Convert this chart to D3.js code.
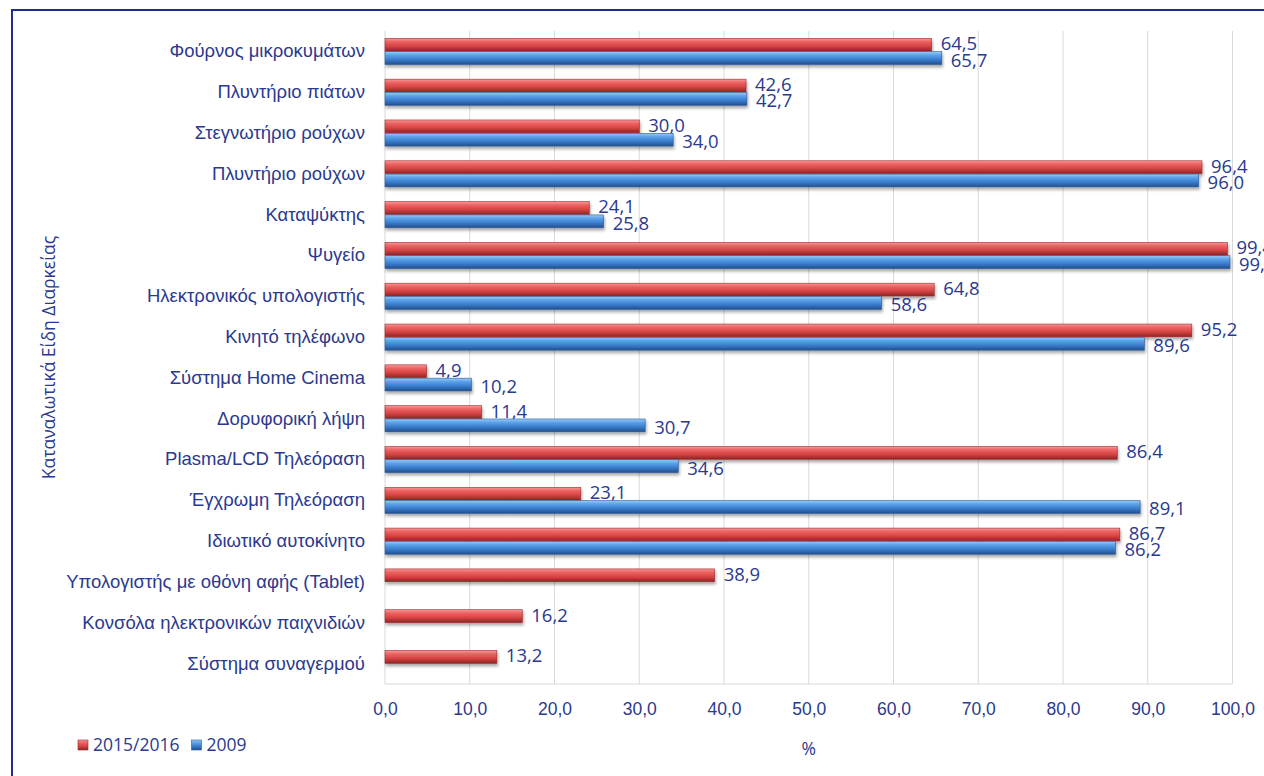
<!DOCTYPE html>
<html>
<head>
<meta charset="utf-8">
<script src="https://cdn.jsdelivr.net/npm/d3@7"></script>
<style>
  body { margin: 0; background: #fff; }
  svg { display: block; font-family: "Open Sans", sans-serif; }
</style>
</head>
<body>
<svg id="chart" width="1264" height="776"></svg>
<script>
// categories top to bottom
const categories = [
  'Φούρνος μικροκυμάτων',
  'Πλυντήριο πιάτων',
  'Στεγνωτήριο ρούχων',
  'Πλυντήριο ρούχων',
  'Καταψύκτης',
  'Ψυγείο',
  'Ηλεκτρονικός υπολογιστής',
  'Κινητό τηλέφωνο',
  'Σύστημα Home Cinema',
  'Δορυφορική λήψη',
  'Plasma/LCD Τηλεόραση',
  'Έγχρωμη Τηλεόραση',
  'Ιδιωτικό αυτοκίνητο',
  'Υπολογιστής με οθόνη αφής (Tablet)',
  'Κονσόλα ηλεκτρονικών παιχνιδιών',
  'Σύστημα συναγερμού'
];
const values2015 = [64.5, 42.6, 30.0, 96.4, 24.1, 99.4, 64.8, 95.2, 4.9, 11.4, 86.4, 23.1, 86.7, 38.9, 16.2, 13.2];
const values2009 = [65.7, 42.7, 34.0, 96.0, 25.8, 99.7, 58.6, 89.6, 10.2, 30.7, 34.6, 89.1, 86.2, null, null, null];
const seriesNames = ['2015/2016', '2009'];
const xTicks = [0, 10, 20, 30, 40, 50, 60, 70, 80, 90, 100];
const yAxisTitle = 'Καταναλωτικά Είδη Διαρκείας';
const xAxisTitle = '%';

const textColor = '#2b3990';
const fmt = v => v.toFixed(1).replace('.', ',');

const svg = d3.select('#chart');
const margin = { top: 31, left: 385, right: 31, bottom: 92 };
const height = 776 - margin.top - margin.bottom;

// gradients for the rounded bar look
const defs = svg.append('defs');
function grad(id, stops) {
  const g = defs.append('linearGradient').attr('id', id)
    .attr('x1', 0).attr('y1', 0).attr('x2', 0).attr('y2', 1);
  stops.forEach(([o, c]) => g.append('stop').attr('offset', o).attr('stop-color', c));
}
grad('gRed', [[0, '#f59a9a'], [0.25, '#ee6464'], [0.6, '#d84545'], [1, '#8e2424']]);
grad('gBlue', [[0, '#9ccbf5'], [0.25, '#5ea4ea'], [0.6, '#3b7fcf'], [1, '#234f8c']]);
const shadow = defs.append('filter').attr('id', 'shadow')
  .attr('x', '-5%').attr('y', '-50%').attr('width', '110%').attr('height', '250%');
shadow.append('feDropShadow').attr('dx', 1).attr('dy', 2.5).attr('stdDeviation', 1.8)
  .attr('flood-color', '#000').attr('flood-opacity', 0.35);

// outer frame
svg.append('path')
  .attr('d', 'M12,800 L12,10 L1300,10')
  .attr('fill', 'none').attr('stroke', '#1f2e8c').attr('stroke-width', 2);

const g = svg.append('g').attr('transform', `translate(${margin.left},${margin.top})`);

const x = d3.scaleLinear().domain([0, 100]).range([0, 847.5]);
const y = d3.scaleBand().domain(categories).range([0, height]).paddingInner(0.36).paddingOuter(0.18);
const sub = d3.scaleBand().domain(seriesNames).range([0, y.bandwidth()]).paddingInner(0.04);

// gridlines
g.append('g').selectAll('line').data(xTicks).join('line')
  .attr('x1', d => x(d)).attr('x2', d => x(d))
  .attr('y1', 0).attr('y2', height)
  .attr('stroke', '#d9d9d9').attr('stroke-width', 1);
g.append('line').attr('x1', x(0)).attr('x2', x(100)).attr('y1', height).attr('y2', height)
  .attr('stroke', '#d9d9d9');

// x axis
const xAxis = g.append('g').attr('transform', `translate(0,${height})`)
  .call(d3.axisBottom(x).tickValues(xTicks).tickSize(0).tickPadding(19).tickFormat(fmt));
xAxis.select('.domain').remove();
xAxis.selectAll('text').attr('fill', textColor).attr('font-size', 17.5);

// y axis
const yAxis = g.append('g')
  .call(d3.axisLeft(y).tickSize(0).tickPadding(20));
yAxis.select('.domain').remove();
yAxis.selectAll('text').attr('fill', textColor).attr('font-size', 18.5);

const rows = categories.map((c, i) => ({ c, v: [values2015[i], values2009[i]] }));
const series = [
  { name: seriesNames[0], fill: 'url(#gRed)', stroke: '#9c2a2a' },
  { name: seriesNames[1], fill: 'url(#gBlue)', stroke: '#2a5a99' }
];

series.forEach((s, si) => {
  const data = rows.filter(r => r.v[si] != null);
  const bars = g.append('g').attr('filter', 'url(#shadow)');
  bars.selectAll('rect').data(data).join('rect')
    .attr('x', x(0))
    .attr('y', d => y(d.c) + sub(s.name))
    .attr('width', d => x(d.v[si]) - x(0))
    .attr('height', sub.bandwidth())
    .attr('fill', s.fill)
    .attr('stroke', s.stroke).attr('stroke-width', 0.6);
  g.append('g').selectAll('text').data(data).join('text')
    .attr('x', d => x(d.v[si]) + 9)
    .attr('y', d => y(d.c) + sub(s.name) + sub.bandwidth() / 2 + (si === 0 ? -1 : 2))
    .attr('dy', '0.35em')
    .attr('fill', textColor).attr('font-size', 18.5)
    .text(d => fmt(d.v[si]));
});

// axis titles
svg.append('text')
  .attr('transform', `translate(55,${margin.top + height / 2}) rotate(-90)`)
  .attr('text-anchor', 'middle').attr('fill', textColor).attr('font-size', 17.5)
  .text(yAxisTitle);
svg.append('text')
  .attr('x', margin.left + x(50)).attr('y', 755)
  .attr('text-anchor', 'middle').attr('fill', textColor).attr('font-size', 17.5)
  .text(xAxisTitle);

// legend
const legend = svg.append('g').attr('transform', 'translate(78,745)');
let lx = 0;
series.forEach(s => {
  const item = legend.append('g').attr('transform', `translate(${lx},0)`);
  item.append('rect').attr('x', 0).attr('y', -5).attr('width', 10).attr('height', 10)
    .attr('fill', s.fill).attr('stroke', s.stroke).attr('stroke-width', 0.6);
  const t = item.append('text').attr('x', 15).attr('dy', '0.35em')
    .attr('fill', textColor).attr('font-size', 17.5).text(s.name);
  lx += 15 + t.node().getComputedTextLength() + 12;
});
</script>
</body>
</html>
